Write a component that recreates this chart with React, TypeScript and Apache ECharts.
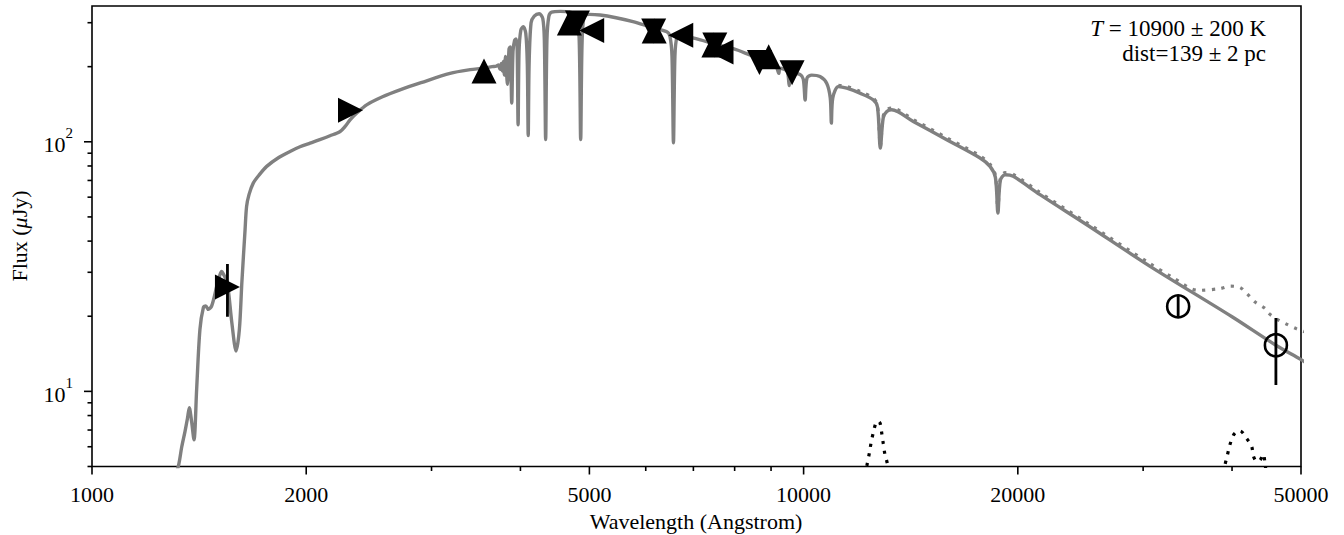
import React, { useEffect, useRef } from "react";
import * as echarts from "echarts";

const X_MIN = 1000;
const X_MAX = 50000;
const Y_MIN = 5;
const Y_MAX = 350;

// model spectrum (wavelength in Angstrom, flux in microJy)
const modelSpectrum: [number, number][] = [
  [1300, 4.4], [1322, 5.0], [1337, 6.0], [1351, 6.9], [1362, 7.8], [1370, 8.6],
  [1380, 7.6], [1391, 6.4], [1403, 10.2], [1418, 17.7], [1434, 21.7], [1445, 22.0],
  [1457, 21.3], [1473, 22.0], [1497, 26.3], [1512, 29.2], [1521, 30.2], [1530, 29.5],
  [1549, 27.3], [1572, 18.9], [1594, 14.5], [1611, 17.7], [1624, 27.3], [1641, 44.5],
  [1649, 55], [1662, 61.4], [1685, 68.3], [1720, 74], [1760, 79.7], [1830, 86.5],
  [1898, 91.5], [1960, 95.5], [2025, 98.8], [2090, 102], [2160, 105.7], [2232, 110],
  [2270, 115.5], [2305, 122.5], [2360, 131], [2432, 140.6], [2560, 151.5], [2709, 161.4],
  [2900, 172.5], [3185, 188], [3400, 194.5], [3546, 197], [3650, 200],
  [3700, 201], [3725, 203], [3745, 195], [3760, 206], [3772, 192], [3785, 210],
  [3798, 185], [3812, 220], [3835, 170], [3855, 235], [3870, 240], [3889, 143],
  [3905, 230], [3925, 255], [3945, 258], [3958, 235], [3970, 117], [3982, 230],
  [4005, 280], [4037, 289], [4070, 272], [4090, 205], [4102, 106], [4114, 205],
  [4140, 300], [4183, 319], [4250, 326], [4300, 312], [4322, 255], [4340, 102],
  [4358, 255], [4385, 318], [4426, 331], [4550, 333], [4700, 331], [4800, 320],
  [4838, 255], [4861, 102], [4884, 255], [4925, 322], [5000, 324], [5176, 322],
  [5450, 314], [5757, 303], [6100, 288], [6424, 276], [6490, 264], [6532, 220],
  [6563, 99], [6594, 220], [6636, 262], [6720, 266], [7161, 256], [7500, 246],
  [7964, 236], [8400, 223], [8873, 210], [9150, 200], [9229, 188], [9265, 197],
  [9480, 192], [9546, 168], [9610, 189], [9887, 186], [9990, 178], [10049, 147],
  [10110, 180], [10265, 185], [10545, 182.5], [10775, 171.6], [10900, 150], [10940, 118.8],
  [10990, 150], [11190, 166.4], [11500, 164], [12000, 156.6], [12530, 147.2], [12700, 138],
  [12818, 94.4], [12940, 125], [13090, 132.2], [13300, 134.3], [14260, 120.6], [15890, 101.9],
  [17700, 86.1], [18280, 79.7], [18600, 72], [18751, 51.8], [18900, 70], [19190, 73.8],
  [19710, 72.7], [21490, 61.4], [25000, 46.5], [30680, 31.7], [40000, 19.9], [46100, 15.3],
  [50000, 13.4], [52000, 12.5],
];

// model including infrared excess (dotted grey)
const modelWithExcess: [number, number][] = [
  [11190, 168.5], [11500, 166.5], [12000, 159], [12530, 149.5], [12700, 140], [12818, 96],
  [12940, 127], [13090, 134.5], [13300, 136.5], [14260, 122.8], [15890, 103.8], [17700, 87.8],
  [18280, 81.2], [18600, 73.5], [18751, 53], [18900, 71.5], [19190, 75.2], [19710, 74.1],
  [21490, 62.6], [25000, 47.4], [30680, 32.5], [33000, 28.6], [35840, 25.4], [38470, 25.8],
  [39730, 26.4], [41040, 26.1], [42000, 24.6], [43100, 22.8], [44500, 21.5], [45000, 20.6],
  [46200, 19.5], [47700, 18.6], [49300, 17.8], [51000, 17.2],
];

// excess components (dotted black)
const excessBumpJ: [number, number][] = [
  [12200, 4.6], [12290, 5.15], [12370, 5.65], [12440, 6.23], [12530, 6.84], [12640, 7.5],
  [12720, 7.6], [12810, 7.45], [12880, 6.77], [12940, 6.18], [13010, 5.6], [13110, 5.15],
  [13200, 4.6],
];
const excessBumpW: [number, number][] = [
  [38900, 4.7], [39090, 5.07], [39400, 5.55], [39720, 6.1], [40170, 6.67], [40600, 6.9],
  [41050, 6.94], [41950, 6.47], [42630, 6.01], [42860, 5.51], [43300, 5.25], [43790, 5.3],
  [44270, 5.6], [44510, 5.11], [44700, 4.7],
];

// photometry
const galexPhot: [number, number][] = [[1550, 26.2], [2308, 133.7]];
const galexErr: [number, number, number][] = [[1550, 19.9, 32.4]];
const sdssPhot: [number, number][] = [[3555, 192], [4686, 299], [6166, 278], [7480, 244], [8932, 219]];
const panstarrsPhot: [number, number][] = [[4810, 299], [6156, 278], [7503, 244], [8668, 208], [9633, 189]];
const gaiaPhot: [number, number][] = [[5037, 279], [6720, 267], [7655, 229]];
const wisePhot: [number, number][] = [[33600, 21.9], [46100, 15.3]];
const wiseErr: [number, number, number][] = [[33600, 19.8, 24.3], [46100, 10.6, 19.7]];

// axis ticks
const xMajorTicks = [1000, 2000, 5000, 10000, 20000, 50000];
const xMajorLabels = ["1000", "2000", "5000", "10000", "20000", "50000"];
const xMinorTicks = [3000, 4000, 6000, 7000, 8000, 9000, 30000, 40000];
const yMajorTicks = [10, 100];
const yMajorExponents = ["1", "2"];
const yMinorTicks = [5, 6, 7, 8, 9, 20, 30, 40, 50, 60, 70, 80, 90, 200, 300];

const FONT = "'Liberation Serif', 'DejaVu Serif', serif";
const FS = 22;
const GRID = { left: 92, top: 6, width: 1209, height: 460.5 };

export default function App() {
  const ref = useRef<HTMLDivElement>(null);

  useEffect(() => {
    document.body.style.margin = "0";
    if (!ref.current) return;
    const chart = echarts.init(ref.current, null, { renderer: "svg" });

    const tickSeries = (values: number[], axis: "x" | "y", len: number, labels?: string[]) => ({
      type: "custom",
      silent: true,
      clip: false,
      z: 20,
      data: values.map((v, i) => (axis === "x" ? [v, Y_MIN, i] : [X_MIN, v, i])),
      renderItem: (params: any, api: any) => {
        const p = api.coord([api.value(0), api.value(1)]);
        const idx = api.value(2);
        const children: any[] = [];
        if (axis === "x") {
          children.push({
            type: "line",
            shape: { x1: p[0], y1: p[1], x2: p[0], y2: p[1] + len },
            style: { stroke: "#000", lineWidth: 1.6 },
          });
          if (labels) {
            children.push({
              type: "text",
              x: p[0],
              y: p[1] + 28,
              style: {
                text: labels[idx],
                fill: "#000",
                fontSize: FS,
                fontFamily: FONT,
                align: "center",
                verticalAlign: "middle",
              },
            });
          }
        } else {
          children.push({
            type: "line",
            shape: { x1: p[0] - len, y1: p[1], x2: p[0], y2: p[1] },
            style: { stroke: "#000", lineWidth: 1.6 },
          });
          if (labels) {
            children.push({
              type: "text",
              x: p[0] - 19,
              y: p[1] - 1,
              style: {
                text: "{b|10}{s|" + labels[idx] + "}",
                fill: "#000",
                align: "right",
                verticalAlign: "middle",
                rich: {
                  b: { fontSize: FS, fontFamily: FONT, lineHeight: 30, verticalAlign: "bottom", fill: "#000" },
                  s: { fontSize: 15, fontFamily: FONT, lineHeight: 15, verticalAlign: "top", fill: "#000" },
                },
              },
            });
          }
        }
        return { type: "group", children };
      },
    });

    const errSeries = (data: [number, number, number][]) => ({
      type: "custom",
      silent: true,
      clip: true,
      z: 6,
      encode: { x: 0, y: [1, 2] },
      data,
      renderItem: (params: any, api: any) => {
        const a = api.coord([api.value(0), api.value(1)]);
        const b = api.coord([api.value(0), api.value(2)]);
        return {
          type: "line",
          shape: { x1: a[0], y1: a[1], x2: b[0], y2: b[1] },
          style: { stroke: "#000", lineWidth: 2.8 },
        };
      },
    });

    const triSeries = (data: [number, number][], rotate: number) => ({
      type: "scatter",
      data,
      symbol: "triangle",
      symbolSize: 25,
      symbolRotate: rotate,
      itemStyle: { color: "#000", opacity: 1 },
      z: 8,
      silent: true,
    });

    chart.setOption({
      animation: false,
      backgroundColor: "#fff",
      grid: {
        ...GRID,
        show: true,
        borderColor: "#000",
        borderWidth: 1.6,
        containLabel: false,
        outerBoundsMode: "none",
      },
      xAxis: {
        type: "log",
        logBase: 10,
        min: X_MIN,
        max: X_MAX,
        axisLine: { show: false },
        axisTick: { show: false },
        axisLabel: { show: false },
        splitLine: { show: false },
        minorTick: { show: false },
      },
      yAxis: {
        type: "log",
        logBase: 10,
        min: Y_MIN,
        max: Y_MAX,
        axisLine: { show: false },
        axisTick: { show: false },
        axisLabel: { show: false },
        splitLine: { show: false },
        minorTick: { show: false },
      },
      graphic: [
        {
          type: "text",
          x: 696,
          y: 521,
          style: {
            text: "Wavelength (Angstrom)",
            fill: "#000",
            fontSize: FS,
            fontFamily: FONT,
            align: "center",
            verticalAlign: "middle",
          },
        },
        {
          type: "text",
          x: 19,
          y: 236,
          rotation: Math.PI / 2,
          style: {
            text: "Flux ({i|μ}Jy)",
            fill: "#000",
            fontSize: FS,
            fontFamily: FONT,
            align: "center",
            verticalAlign: "middle",
            rich: { i: { fontSize: FS, fontFamily: FONT, fontStyle: "italic", fill: "#000" } },
          },
        },
        {
          type: "text",
          x: 1266,
          y: 28,
          style: {
            text: "{i|T} = 10900 ± 200 K",
            fill: "#000",
            fontSize: 23,
            fontFamily: FONT,
            align: "right",
            verticalAlign: "middle",
            rich: { i: { fontSize: 23, fontFamily: FONT, fontStyle: "italic", fill: "#000" } },
          },
        },
        {
          type: "text",
          x: 1266,
          y: 53,
          style: {
            text: "dist=139 ± 2 pc",
            fill: "#000",
            fontSize: 23,
            fontFamily: FONT,
            align: "right",
            verticalAlign: "middle",
          },
        },
      ],
      series: [
        {
          type: "line",
          data: modelSpectrum,
          showSymbol: false,
          symbol: "none",
          smooth: 0.3,
          lineStyle: { color: "#808080", width: 3.4 },
          z: 2,
          silent: true,
        },
        {
          type: "line",
          data: modelWithExcess,
          showSymbol: false,
          symbol: "none",
          smooth: 0.3,
          lineStyle: { color: "#808080", width: 3.2, type: [3.2, 6.5], cap: "butt" },
          z: 2,
          silent: true,
        },
        {
          type: "line",
          data: excessBumpJ,
          showSymbol: false,
          symbol: "none",
          smooth: 0.3,
          lineStyle: { color: "#000", width: 3.2, type: [3.2, 6.5], cap: "butt" },
          z: 3,
          silent: true,
        },
        {
          type: "line",
          data: excessBumpW,
          showSymbol: false,
          symbol: "none",
          smooth: 0.3,
          lineStyle: { color: "#000", width: 3.2, type: [3.2, 6.5], cap: "butt" },
          z: 3,
          silent: true,
        },
        errSeries(galexErr),
        errSeries(wiseErr),
        triSeries(galexPhot, -90),
        triSeries(sdssPhot, 0),
        triSeries(panstarrsPhot, 180),
        triSeries(gaiaPhot, 90),
        {
          type: "scatter",
          data: wisePhot,
          symbol: "circle",
          symbolSize: 22,
          itemStyle: { color: "rgba(0,0,0,0)", borderColor: "#000", borderWidth: 2.6, opacity: 1 },
          z: 8,
          silent: true,
        },
        tickSeries(xMajorTicks, "x", 8, xMajorLabels),
        tickSeries(xMinorTicks, "x", 4.5),
        tickSeries(yMajorTicks, "y", 8, yMajorExponents),
        tickSeries(yMinorTicks, "y", 4.5),
      ],
    });

    return () => chart.dispose();
  }, []);

  return <div ref={ref} style={{ width: 1344, height: 535 }} />;
}
